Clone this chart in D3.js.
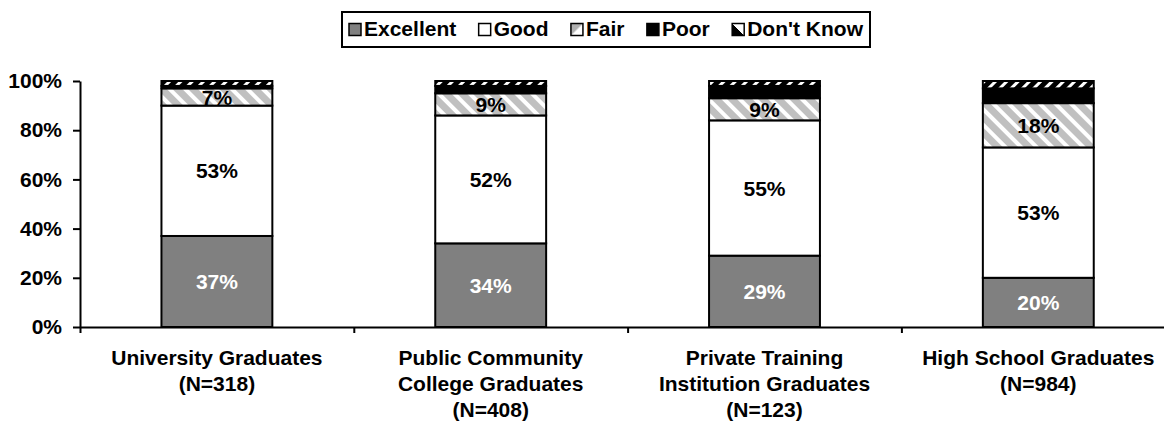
<!DOCTYPE html>
<html>
<head>
<meta charset="utf-8">
<script src="https://cdn.jsdelivr.net/npm/d3@7"></script>
<style>
  body { margin: 0; background: #fff; }
  svg text { font-family: "Liberation Sans", Arial, Helvetica, sans-serif; font-weight: bold; }
</style>
</head>
<body>
<svg id="chart" width="1164" height="423"></svg>
<script>
// Ratings by graduate group (percent of respondents)
const categories = [
  ["University Graduates", "(N=318)"],
  ["Public Community", "College Graduates", "(N=408)"],
  ["Private Training", "Institution Graduates", "(N=123)"],
  ["High School Graduates", "(N=984)"]
];
const seriesNames = ["Excellent", "Good", "Fair", "Poor", "Don't Know"];
const excellent = [37, 34, 29, 20];
const good      = [53, 52, 55, 53];
const fair      = [7, 9, 9, 18];
const poor      = [1, 3, 5, 6];
const dontKnow  = [2, 2, 2, 3];
const yTicks    = [0, 20, 40, 60, 80, 100];

const seriesValues = [excellent, good, fair, poor, dontKnow];
const labelled = { "Excellent": "#fff", "Good": "#000", "Fair": "#000" };
const FS = 21;

const svg = d3.select("#chart");
const defs = svg.append("defs");

// Hatch fills
const pFair = defs.append("pattern").attr("id", "pat-fair")
  .attr("patternUnits", "userSpaceOnUse").attr("width", 11).attr("height", 11)
  .attr("patternTransform", "rotate(-45)");
pFair.append("rect").attr("width", 11).attr("height", 11).attr("fill", "#c0c0c0");
pFair.append("rect").attr("x", 0).attr("width", 4).attr("height", 11).attr("fill", "#fff");

const pDk = defs.append("pattern").attr("id", "pat-dk")
  .attr("patternUnits", "userSpaceOnUse").attr("width", 8).attr("height", 8)
  .attr("patternTransform", "rotate(45)");
pDk.append("rect").attr("width", 8).attr("height", 8).attr("fill", "#000");
pDk.append("rect").attr("x", 0).attr("width", 3).attr("height", 8).attr("fill", "#fff");

// Small legend swatches
const gFair = defs.append("linearGradient").attr("id", "sw-fair")
  .attr("x1", 0).attr("y1", 0).attr("x2", 1).attr("y2", 1);
[["0%", "#b0b0b0"], ["45%", "#b0b0b0"], ["55%", "#fff"], ["100%", "#fff"]]
  .forEach(([o, c]) => gFair.append("stop").attr("offset", o).attr("stop-color", c));
const gDk = defs.append("linearGradient").attr("id", "sw-dk")
  .attr("x1", 0).attr("y1", 1).attr("x2", 1).attr("y2", 0);
[["0%", "#000"], ["50%", "#000"], ["50%", "#fff"], ["100%", "#fff"]]
  .forEach(([o, c]) => gDk.append("stop").attr("offset", o).attr("stop-color", c));

const fills = {
  "Excellent": "#808080", "Good": "#fff", "Fair": "url(#pat-fair)",
  "Poor": "#000", "Don't Know": "url(#pat-dk)"
};
const swatchFills = {
  "Excellent": "#808080", "Good": "#fff", "Fair": "url(#sw-fair)",
  "Poor": "#000", "Don't Know": "url(#sw-dk)"
};

// Scales
const plotLeft = 80, step = 273.8;
const x = d3.scaleBand().domain(d3.range(categories.length))
  .range([plotLeft, plotLeft + step * categories.length]).padding(0);
const barW = x.bandwidth() * 0.405;
const y = d3.scaleLinear().domain([0, 100]).range([327, 81]);

// Stack rows
const rows = categories.map((c, i) => {
  const r = { idx: i };
  seriesNames.forEach((s, k) => r[s] = seriesValues[k][i]);
  return r;
});
const stacked = d3.stack().keys(seriesNames)(rows);

// Bars
const gBars = svg.append("g");
stacked.forEach(layer => {
  gBars.append("g").selectAll("rect").data(layer).join("rect")
    .attr("x", d => x(d.data.idx) + (x.bandwidth() - barW) / 2)
    .attr("width", barW)
    .attr("y", d => y(d[1]))
    .attr("height", d => y(d[0]) - y(d[1]))
    .attr("fill", fills[layer.key])
    .attr("stroke", "#000").attr("stroke-width", 2);
});

// Value labels
stacked.filter(l => labelled[l.key]).forEach(layer => {
  gBars.append("g").selectAll("text").data(layer).join("text")
    .attr("x", d => x(d.data.idx) + x.bandwidth() / 2)
    .attr("y", d => (y(d[0]) + y(d[1])) / 2)
    .attr("dy", "0.36em")
    .attr("text-anchor", "middle")
    .attr("font-size", FS)
    .attr("fill", labelled[layer.key])
    .text(d => (d[1] - d[0]) + "%");
});

// Y axis
const yAxis = svg.append("g").attr("transform", `translate(${plotLeft},0)`)
  .call(d3.axisLeft(y).tickValues(yTicks).tickFormat(d => d + "%").tickSize(7).tickSizeOuter(0));
yAxis.selectAll("text").attr("font-size", FS).attr("fill", "#000").attr("x", -18)
  .style("font-family", "'Liberation Sans', Arial, sans-serif").style("font-weight", "bold");
yAxis.selectAll("line, path").attr("stroke", "#000").attr("stroke-width", 2);

// X axis with boundary ticks
const xb = d3.scaleLinear().domain([0, categories.length])
  .range([plotLeft, plotLeft + step * categories.length]);
const xAxis = svg.append("g").attr("transform", `translate(0,${y(0)})`)
  .call(d3.axisBottom(xb).tickValues(d3.range(categories.length + 1))
    .tickFormat("").tickSize(6).tickSizeOuter(0));
xAxis.selectAll("line, path").attr("stroke", "#000").attr("stroke-width", 2);

// Category labels
const gCat = svg.append("g");
categories.forEach((lines, i) => {
  const t = gCat.append("text")
    .attr("x", x(i) + x.bandwidth() / 2).attr("y", 365)
    .attr("text-anchor", "middle").attr("font-size", FS).attr("fill", "#000");
  lines.forEach((ln, j) => t.append("tspan")
    .attr("x", x(i) + x.bandwidth() / 2).attr("y", 365 + j * 26).text(ln));
});

// Legend
const gLeg = svg.append("g");
const boxX = 342, boxW = 528, pad = 7, sw = 12, swGap = 3;
gLeg.append("rect").attr("x", boxX).attr("y", 12).attr("width", boxW).attr("height", 35)
  .attr("fill", "#fff").attr("stroke", "#000").attr("stroke-width", 2);
const items = gLeg.append("g");
const itemNodes = seriesNames.map(s => {
  const it = items.append("g");
  it.append("rect").attr("x", 0).attr("y", 23.5).attr("width", sw).attr("height", sw)
    .attr("fill", swatchFills[s]).attr("stroke", "#000").attr("stroke-width", 1.5);
  const tx = it.append("text").attr("x", sw + swGap).attr("y", 36).attr("font-size", FS)
    .attr("fill", "#000").text(s);
  return { g: it, w: sw + swGap + tx.node().getComputedTextLength() };
});
const used = d3.sum(itemNodes, d => d.w);
const gap = (boxW - 2 * pad - used) / (itemNodes.length - 1);
let cx = boxX + pad;
itemNodes.forEach(d => { d.g.attr("transform", `translate(${cx},0)`); cx += d.w + gap; });
</script>
</body>
</html>
